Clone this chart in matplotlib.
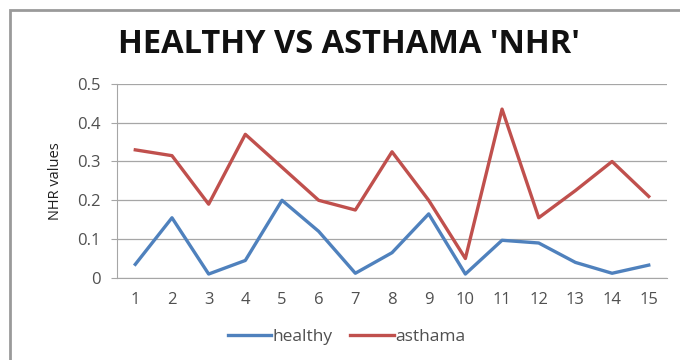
import matplotlib
matplotlib.use("Agg")
import matplotlib.pyplot as plt
from matplotlib.patches import Rectangle

categories = [str(i) for i in range(1, 16)]
healthy = [0.035, 0.155, 0.01, 0.045, 0.2, 0.12, 0.012, 0.065, 0.165, 0.01, 0.097, 0.09, 0.04, 0.012, 0.033]
asthama = [0.33, 0.315, 0.19, 0.37, 0.285, 0.2, 0.175, 0.325, 0.2, 0.05, 0.435, 0.155, 0.225, 0.3, 0.21]
yticks = [0, 0.1, 0.2, 0.3, 0.4, 0.5]
ytick_labels = ["0", "0.1", "0.2", "0.3", "0.4", "0.5"]

plt.rcParams['font.family'] = ['Open Sans', 'DejaVu Sans']

fig = plt.figure(figsize=(6.8, 3.6), dpi=100)
fig.patch.set_facecolor('white')
# outer chart frame
fig.patches.append(Rectangle((0.014, -0.02), 1.0, 0.992, transform=fig.transFigure,
                             fill=False, edgecolor='#9a9a9a', linewidth=2.0))

ax = fig.add_axes([0.172, 0.228, 0.809, 0.539])
x = list(range(len(categories)))
ax.plot(x, healthy, color='#4F81BD', linewidth=2.4, label='healthy')
ax.plot(x, asthama, color='#C0504D', linewidth=2.4, label='asthama')

ax.set_xlim(-0.5, len(categories) - 0.5)
ax.set_ylim(0, 0.5)
ax.set_yticks(yticks)
ax.set_yticklabels(ytick_labels)
ax.set_xticks(x)
ax.set_xticklabels(categories)
ax.grid(axis='y', color='#a6a6a6', linewidth=0.9)
ax.set_axisbelow(True)
for s in ['top', 'right']:
    ax.spines[s].set_visible(False)
ax.spines['left'].set_color('#a6a6a6')
ax.spines['bottom'].set_color('#a6a6a6')
ax.tick_params(axis='both', colors='#a6a6a6', labelcolor='#505050', labelsize=12, length=4)
ax.tick_params(axis='x', length=0, pad=10)
ax.tick_params(axis='y', pad=8)
ax.set_ylabel('NHR values', fontsize=10.5, color='#202020', labelpad=10)

fig.text(0.513, 0.877, "HEALTHY VS ASTHAMA 'NHR'", ha='center', va='center',
         fontsize=23.5, fontweight='bold', color='#111111')

leg = fig.legend(loc='center', bbox_to_anchor=(0.51, 0.063), ncol=2, frameon=False,
                 fontsize=12.5, handlelength=2.5, handletextpad=0.1, columnspacing=1.0)
for t in leg.get_texts():
    t.set_color('#505050')

fig.savefig('out.png', dpi=100)
